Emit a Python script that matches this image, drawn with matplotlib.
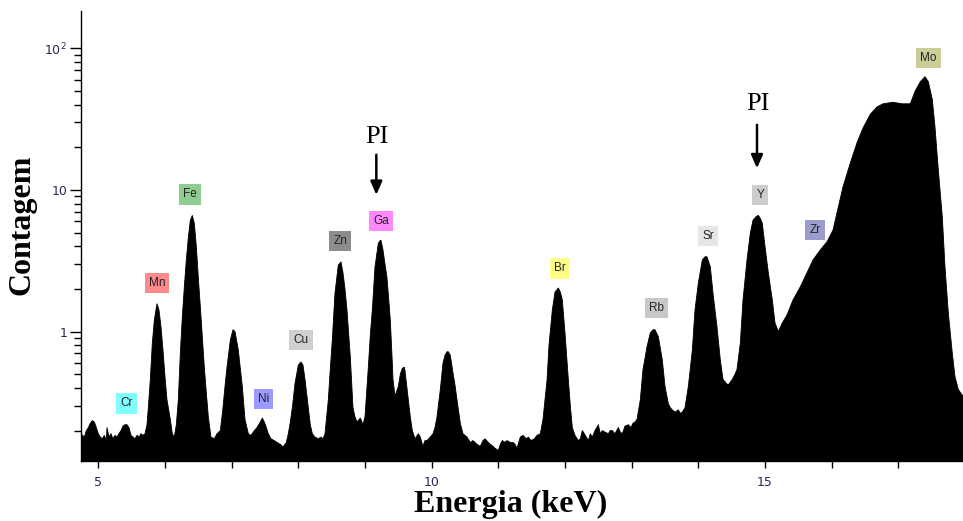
import matplotlib
matplotlib.use("Agg")
import matplotlib.pyplot as plt
from matplotlib.ticker import FixedLocator, FixedFormatter, MultipleLocator, FuncFormatter, LogLocator, NullFormatter

# XRF spectrum: energy (keV) and counts
energy_kev = [
    4.74, 4.79, 4.82, 4.85, 4.88, 4.91, 4.94, 4.97, 5.00, 5.03,
    5.06, 5.09, 5.12, 5.13, 5.16, 5.19, 5.22, 5.25, 5.28, 5.31,
    5.34, 5.37, 5.40, 5.43, 5.46, 5.49, 5.52, 5.55, 5.58, 5.61,
    5.64, 5.67, 5.70, 5.73, 5.75, 5.78, 5.81, 5.84, 5.87, 5.88,
    5.91, 5.94, 5.97, 6.00, 6.03, 6.08, 6.11, 6.14, 6.17, 6.20,
    6.23, 6.26, 6.29, 6.32, 6.35, 6.38, 6.41, 6.44, 6.47, 6.50,
    6.53, 6.56, 6.59, 6.62, 6.65, 6.69, 6.74, 6.78, 6.83, 6.87,
    6.90, 6.93, 6.98, 7.02, 7.05, 7.10, 7.13, 7.16, 7.20, 7.25,
    7.29, 7.34, 7.38, 7.43, 7.46, 7.49, 7.52, 7.55, 7.59, 7.64,
    7.68, 7.73, 7.77, 7.82, 7.85, 7.88, 7.91, 7.95, 8.00, 8.04,
    8.07, 8.10, 8.15, 8.18, 8.21, 8.25, 8.30, 8.34, 8.37, 8.40,
    8.45, 8.48, 8.51, 8.55, 8.60, 8.64, 8.67, 8.70, 8.73, 8.78,
    8.82, 8.85, 8.88, 8.93, 8.97, 9.00, 9.05, 9.08, 9.11, 9.15,
    9.20, 9.23, 9.24, 9.27, 9.30, 9.33, 9.36, 9.38, 9.41, 9.42,
    9.45, 9.50, 9.53, 9.56, 9.59, 9.60, 9.65, 9.68, 9.71, 9.75,
    9.80, 9.83, 9.87, 9.90, 9.93, 9.98, 10.02, 10.05, 10.08, 10.13,
    10.17, 10.20, 10.23, 10.25, 10.28, 10.32, 10.35, 10.38, 10.43, 10.47,
    10.53, 10.58, 10.62, 10.68, 10.73, 10.77, 10.80, 10.85, 10.88, 10.92,
    10.95, 11.00, 11.03, 11.06, 11.10, 11.13, 11.18, 11.22, 11.25, 11.28,
    11.33, 11.37, 11.42, 11.45, 11.49, 11.54, 11.58, 11.63, 11.67, 11.70,
    11.73, 11.76, 11.81, 11.85, 11.90, 11.93, 11.96, 12.00, 12.05, 12.08,
    12.11, 12.15, 12.20, 12.23, 12.26, 12.29, 12.32, 12.35, 12.38, 12.41,
    12.45, 12.50, 12.53, 12.56, 12.60, 12.65, 12.68, 12.71, 12.75, 12.80,
    12.83, 12.86, 12.90, 12.95, 12.99, 13.02, 13.05, 13.08, 13.13, 13.17,
    13.23, 13.28, 13.32, 13.35, 13.40, 13.46, 13.50, 13.55, 13.58, 13.61,
    13.65, 13.70, 13.73, 13.76, 13.80, 13.85, 13.88, 13.91, 13.95, 14.00,
    14.06, 14.10, 14.13, 14.18, 14.22, 14.28, 14.33, 14.37, 14.42, 14.45,
    14.48, 14.51, 14.55, 14.58, 14.63, 14.67, 14.73, 14.78, 14.82, 14.87,
    14.90, 14.93, 14.96, 15.00, 15.05, 15.11, 15.15, 15.20, 15.26, 15.33,
    15.42, 15.53, 15.63, 15.72, 15.83, 15.93, 16.02, 16.08, 16.17, 16.28,
    16.38, 16.47, 16.58, 16.68, 16.77, 16.92, 17.06, 17.18, 17.25, 17.33,
    17.40, 17.45, 17.51, 17.55, 17.60, 17.66, 17.70, 17.75, 17.81, 17.85,
    17.90, 17.97,
]
counts = [
    0.19, 0.18, 0.20, 0.21, 0.225, 0.235, 0.23, 0.21, 0.19, 0.18,
    0.175, 0.185, 0.17, 0.21, 0.18, 0.19, 0.175, 0.185, 0.18, 0.19,
    0.20, 0.215, 0.22, 0.22, 0.21, 0.185, 0.18, 0.175, 0.185, 0.18,
    0.19, 0.185, 0.19, 0.22, 0.29, 0.46, 0.83, 1.20, 1.48, 1.57,
    1.42, 1.08, 0.74, 0.48, 0.33, 0.24, 0.19, 0.18, 0.22, 0.33,
    0.70, 1.27, 2.07, 3.2, 4.6, 6.1, 6.6, 5.8, 4.0, 2.4,
    1.5, 0.92, 0.56, 0.37, 0.25, 0.18, 0.175, 0.19, 0.20, 0.29,
    0.41, 0.56, 0.87, 1.03, 1.00, 0.74, 0.55, 0.41, 0.24, 0.19,
    0.185, 0.20, 0.21, 0.23, 0.245, 0.23, 0.21, 0.19, 0.175, 0.17,
    0.165, 0.16, 0.153, 0.165, 0.19, 0.23, 0.29, 0.43, 0.58, 0.61,
    0.58, 0.46, 0.29, 0.22, 0.19, 0.18, 0.175, 0.18, 0.175, 0.19,
    0.33, 0.55, 0.88, 1.87, 2.95, 3.1, 2.6, 2.0, 1.42, 0.66,
    0.29, 0.25, 0.23, 0.245, 0.22, 0.25, 0.56, 0.95, 1.42, 2.86,
    4.2, 4.4, 4.4, 3.77, 3.0, 2.4, 1.6, 1.2, 0.6, 0.46,
    0.35, 0.41, 0.50, 0.55, 0.56, 0.53, 0.33, 0.25, 0.20, 0.175,
    0.19, 0.18, 0.155, 0.17, 0.17, 0.18, 0.19, 0.21, 0.25, 0.39,
    0.60, 0.68, 0.72, 0.72, 0.68, 0.51, 0.42, 0.33, 0.225, 0.19,
    0.18, 0.165, 0.17, 0.16, 0.155, 0.17, 0.175, 0.165, 0.16, 0.155,
    0.15, 0.145, 0.16, 0.17, 0.165, 0.17, 0.165, 0.165, 0.16, 0.15,
    0.18, 0.185, 0.175, 0.18, 0.17, 0.175, 0.185, 0.19, 0.24, 0.33,
    0.45, 0.80, 1.42, 1.90, 2.03, 1.90, 1.67, 0.98, 0.46, 0.30,
    0.21, 0.185, 0.17, 0.175, 0.20, 0.19, 0.18, 0.17, 0.19, 0.18,
    0.20, 0.22, 0.19, 0.20, 0.195, 0.19, 0.20, 0.20, 0.19, 0.21,
    0.195, 0.19, 0.215, 0.22, 0.21, 0.225, 0.23, 0.24, 0.33, 0.54,
    0.78, 0.98, 1.03, 1.03, 0.92, 0.63, 0.41, 0.31, 0.29, 0.28,
    0.27, 0.28, 0.265, 0.27, 0.29, 0.41, 0.55, 0.74, 1.42, 2.2,
    3.2, 3.37, 3.37, 2.86, 1.87, 1.08, 0.63, 0.46, 0.43, 0.42,
    0.44, 0.46, 0.50, 0.54, 0.83, 1.67, 3.2, 4.96, 6.1, 6.5,
    6.6, 6.3, 5.8, 4.0, 2.6, 1.67, 1.15, 1.00, 1.15, 1.31,
    1.67, 2.07, 2.6, 3.2, 3.77, 4.3, 5.2, 6.9, 10.5, 15.5,
    21.5, 27.3, 34.2, 38.5, 40.5, 41.5, 40.5, 40.5, 49.6, 58.0,
    62.9, 58.0, 43.3, 27.8, 13.8, 6.4, 2.86, 1.35, 0.70, 0.48,
    0.39, 0.35,
]

# Element line labels: name, energy (keV), label height (counts), box colour
elements = ["Cr", "Mn", "Fe", "Ni", "Cu", "Zn", "Ga", "Br", "Rb", "Sr", "Y", "Zr", "Mo"]
element_energy = [5.42, 5.88, 6.38, 7.48, 8.04, 8.63, 9.24, 11.92, 13.37, 14.15, 14.93, 15.75, 17.45]
element_label_y = [0.311, 2.19, 9.29, 0.335, 0.867, 4.33, 6.04, 2.79, 1.46, 4.70, 9.15, 5.18, 85.4]
element_colors = ["#80ffff", "#ff8a8a", "#8fcc8f", "#9a9aff", "#cfcfcf", "#8c8c8c", "#ff88ff",
                  "#ffff88", "#c8c8c8", "#e6e6e6", "#cccccc", "#9c9ccc", "#cccc99"]

x_major_ticks = [5, 10, 15]
y_major_ticks = [1, 10, 100]
y_tick_labels = ["1", "10", r"$10^2$"]

fig = plt.figure(figsize=(9.63, 5.21), dpi=100)
ax = fig.add_axes([0.0841, 0.1152, 0.9159, 0.8637])

ax.set_yscale("log")
ax.set_xlim(4.74, 17.97)
ax.set_ylim(0.122, 183)

ax.fill_between(energy_kev, counts, 1e-3, color="black", linewidth=0.6, edgecolor="black")

# Axes styling
for side in ("top", "right"):
    ax.spines[side].set_visible(False)
ax.spines["left"].set_linewidth(1.0)
ax.spines["bottom"].set_linewidth(1.0)

tick_color = "#28285a"
ax.xaxis.set_major_locator(MultipleLocator(1))
ax.xaxis.set_major_formatter(FuncFormatter(
    lambda v, p: f"{int(round(v))}" if int(round(v)) in x_major_ticks and abs(v - round(v)) < 1e-6 else ""))
ax.tick_params(axis="x", which="major", direction="out", length=5, width=1, labelsize=9,
               labelcolor=tick_color, pad=6)

ax.yaxis.set_major_locator(FixedLocator(y_major_ticks))
ax.yaxis.set_major_formatter(FixedFormatter(y_tick_labels))
ax.yaxis.set_minor_locator(LogLocator(base=10, subs=[2, 3, 4, 5, 6, 7, 8, 9]))
ax.yaxis.set_minor_formatter(NullFormatter())
ax.tick_params(axis="y", which="major", direction="out", length=8, width=1, labelsize=9,
               labelcolor=tick_color, pad=2)
ax.tick_params(axis="y", which="minor", direction="out", length=5, width=1)

serif = ["Liberation Serif", "DejaVu Serif"]
ax.set_ylabel("Contagem", fontsize=23, fontweight="bold", family=serif, va="center")
ax.yaxis.set_label_coords(-0.067, 0.525)
ax.set_xlabel("Energia (keV)", fontsize=23, fontweight="bold", family=serif, va="center")
ax.xaxis.set_label_coords(0.4875, -0.097)

# Element labels
for name, e, yv, c in zip(elements, element_energy, element_label_y, element_colors):
    ax.text(e, yv, name, ha="center", va="center", fontsize=8.5, color="#222222",
            family=["Liberation Sans", "DejaVu Sans"],
            bbox=dict(boxstyle="square,pad=0.35", facecolor=c, edgecolor="none"))

# PI markers
pi_energy = [9.18, 14.89]
pi_text_y = [23.7, 40.4]
pi_arrow_from = [17.7, 28.8]
pi_arrow_to = [9.22, 14.2]
for e, ty, a0, a1 in zip(pi_energy, pi_text_y, pi_arrow_from, pi_arrow_to):
    ax.text(e, ty, "PI", ha="center", va="center", fontsize=19, family=serif)
    ax.annotate("", xy=(e - 0.01, a1), xytext=(e - 0.01, a0),
                arrowprops=dict(arrowstyle="-|>,head_width=0.35,head_length=0.8",
                                lw=1.8, color="black", shrinkA=0, shrinkB=0))

fig.savefig("out.png", dpi=100)
